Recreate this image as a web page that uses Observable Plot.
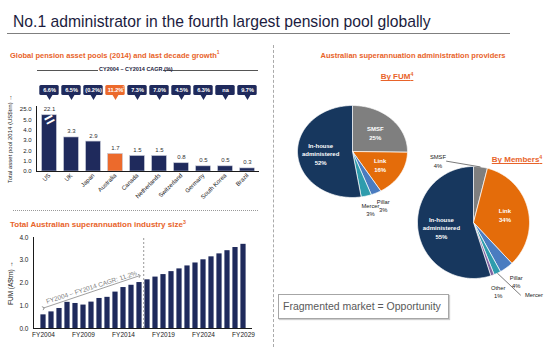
<!DOCTYPE html>
<html><head><meta charset="utf-8">
<script src="https://cdn.jsdelivr.net/npm/d3@7"></script>
<script src="https://cdn.jsdelivr.net/npm/@observablehq/plot@0.6"></script>
<style>
body{margin:0;background:#fff;font-family:"Liberation Sans",Arial,sans-serif;}
#root{position:relative;width:550px;height:347px;overflow:hidden;background:#fff;}
.abs{position:absolute;line-height:1;white-space:nowrap;}
.orange{color:#e8632a;font-weight:bold;}
#root svg{background:transparent;overflow:visible;}
sup{font-size:65%;vertical-align:top;position:relative;top:-1px;}
</style></head><body><div id="root">
<div class="abs" style="left:13px;top:13.7px;font-size:15.7px;color:#1c1c40">No.1 administrator in the fourth largest pension pool globally</div>
<div class="abs" style="left:7px;top:33px;width:503px;border-top:1.5px solid #7f7f7f"></div>
<div class="abs orange" style="left:10px;top:52.2px;font-size:7.5px">Global pension asset pools (2014) and last decade growth<sup>1</sup></div>
<div class="abs" style="left:37px;top:70px;width:61px;border-top:1px solid #555"></div>
<div class="abs" style="left:163px;top:70px;width:95px;border-top:1px solid #555"></div>
<div class="abs" style="left:99px;top:67.3px;width:63px;text-align:center;font-size:5.5px;font-weight:bold;color:#1c1c40">CY2004 – CY2014 CAGR (%)</div>
<div class="abs" style="left:13px;top:210px;width:245px;border-top:1px dotted #999"></div>
<div class="abs orange" style="left:10px;top:220.7px;font-size:8px">Total Australian superannuation industry size<sup>3</sup></div>
<div class="abs" style="left:273px;top:45px;height:302px;border-left:1px dashed #aaa"></div>
<div class="abs orange" style="left:312px;top:52.2px;width:202px;text-align:center;font-size:7.5px">Australian superannuation administration providers</div>
<div class="abs orange" style="left:372px;top:73.2px;width:50px;text-align:center;font-size:8px;text-decoration:underline">By FUM<sup>4</sup></div>
<div class="abs orange" style="left:487px;top:156.2px;width:60px;text-align:center;font-size:8px;text-decoration:underline">By Members<sup>4</sup></div>
<div class="abs" style="left:278px;top:294px;width:165px;height:23px;border:1.5px solid #a6a6a6;box-shadow:1px 1px 1px #ccc;font-size:10.5px;color:#595959;line-height:23px;padding-left:4px;box-sizing:content-box">Fragmented market = Opportunity</div>
</div>
<script>
// ---------- data ----------
const countries = ["US","UK","Japan","Australia","Canada","Netherlands","Switzerland","Germany","South Korea","Brazil"];
const assets2014 = [22.1,3.3,2.9,1.7,1.5,1.5,0.8,0.5,0.5,0.3];
const cagrLabels = ["6.6%","6.5%","(0.2%)","11.2%","7.3%","7.0%","4.5%","6.3%","na","9.7%"];
const globalTicks = [0,1,2,3,4,5,25];
const axisBreak = 5;

const fyYears = ["FY2004","FY2005","FY2006","FY2007","FY2008","FY2009","FY2010","FY2011","FY2012","FY2013","FY2014","FY2015","FY2016","FY2017","FY2018","FY2019","FY2020","FY2021","FY2022","FY2023","FY2024","FY2025","FY2026","FY2027","FY2028","FY2029"];
const fumTrn = [0.6,0.73,0.88,1.15,1.1,1.03,1.16,1.32,1.37,1.6,1.8,1.9,2.02,2.14,2.26,2.37,2.5,2.62,2.75,2.88,3.02,3.15,3.28,3.42,3.56,3.7];
const fyTickLabels = ["FY2004","FY2009","FY2014","FY2019","FY2024","FY2029"];
const lastActualYear = "FY2016";
const cagrText = "FY2004 – FY2014 CAGR: 11.2%";

const fumProviders = ["SMSF","Link","Pillar","Mercer","In-house administered"];
const fumShares = [25,16,3,3,52];
const memberProviders = ["SMSF","Link","Pillar","Mercer","Other","In-house administered"];
const memberShares = [4,34,4,2,1,55];

// ---------- styles ----------
const NAVY = "#1f2a5c", ORANGE = "#ec6a2c";
const providerColors = {"In-house administered":"#17375e","SMSF":"#7f7f7f","Link":"#e46c0a","Pillar":"#4a7cc0","Mercer":"#2e9cad","Other":"#8064a2"};
const font = "Liberation Sans, Arial, sans-serif";
const root = document.getElementById("root");
function place(svg, left, top){ svg.style.position="absolute"; svg.style.left=left+"px"; svg.style.top=top+"px"; root.appendChild(svg); }

// ---------- global pension pools ----------
const breakY = d3.scaleLinear().domain([0, axisBreak, 22.1, 25]).range([0, axisBreak, 5.45, 6.05]);
const globalData = countries.map((c,i)=>({country:c, value:assets2014[i], cagr:cagrLabels[i]}));
const fillOf = d => d.country === "Australia" ? ORANGE : NAVY;

const gW = 270, gL = 36, gR = 11;
const gPlot = Plot.plot({
  width: gW, height: 112, marginLeft: gL, marginRight: gR, marginTop: 6, marginBottom: 41,
  style: {fontFamily: font, fontSize: "6px", color: "#1a1a1a", background: "transparent", overflow: "visible"},
  color: {type: "identity"},
  x: {domain: countries, padding: 0, label: null, tickRotate: -45, tickSize: 0, tickPadding: 3},
  y: {domain: [0, 6.3], ticks: globalTicks.map(t => breakY(t)), tickFormat: v => d3.format(".1f")(breakY.invert(v)),
      tickSize: 0, tickPadding: 5, label: "Total asset pool 2014 (US$trn)", labelAnchor: "center", labelOffset: 29, line: true},
  marks: [
    Plot.barY(globalData, {x: "country", y: d => breakY(d.value), fill: fillOf, insetLeft: 3.6, insetRight: 3.6, stroke: "#c5c8d6", strokeWidth: 0.6}),
    Plot.text(globalData.filter(d => d.value > axisBreak), {x: "country", y: () => breakY(axisBreak), text: () => "=", fill: "white", fontSize: 17, fontWeight: "bold", rotate: -28}),
    Plot.text(globalData, {x: "country", y: d => breakY(d.value), text: d => d3.format(".1f")(d.value), dy: -6, fontSize: 6, fill: "#333"}),
    Plot.ruleY([0], {stroke: "#1a1a1a"})
  ]
});
place(gPlot, 0, 100);

const cPlot = Plot.plot({
  width: gW, height: 20, marginLeft: gL, marginRight: gR, marginTop: 5, marginBottom: 5,
  style: {fontFamily: font, background: "transparent", overflow: "visible"},
  color: {type: "identity"},
  x: {domain: countries, padding: 0, axis: null},
  marks: [
    Plot.cell(globalData, {x: "country", fill: fillOf, insetLeft: 1.3, insetRight: 1.3, rx: 1.5}),
    Plot.dot(globalData, {x: "country", frameAnchor: "bottom", symbol: "triangle", rotate: 180, r: 2.4, fill: fillOf, dy: 0.8}),
    Plot.text(globalData, {x: "country", text: "cagr", fill: "white", fontWeight: "bold", fontSize: 5.6}),
    Plot.text(globalData.filter(d => d.country === "Australia"), {x: "country", text: () => "2", fill: "white", fontSize: 4, dx: 8, dy: -3})
  ]
});
place(cPlot, 0, 80);

// ---------- industry size ----------
const indData = fyYears.map((y,i)=>({year:y, value:fumTrn[i]}));
const iW = 270, iL = 33, iR = 18, iT = 9, iB = 19, iH = 119;
const step = (iW - iL - iR) / fyYears.length;
const pxPerUnit = (iH - iT - iB) / 4;
const i0 = 0, i1 = fyYears.indexOf(lastActualYear);
const lift = 0.3;
const arrow = {x1: fyYears[i0], y1: fumTrn[i0] + lift, x2: fyYears[i1], y2: fumTrn[i1] + lift, xm: fyYears[Math.round((i0 + i1) / 2)]};
const angle = -Math.atan2((arrow.y2 - arrow.y1) * pxPerUnit, (i1 - i0) * step) * 180 / Math.PI;
const iPlot = Plot.plot({
  width: iW, height: iH, marginLeft: iL, marginRight: iR, marginTop: iT, marginBottom: iB,
  style: {fontFamily: font, fontSize: "6.5px", color: "#1a1a1a", background: "transparent", overflow: "visible"},
  x: {domain: fyYears, padding: 0, ticks: fyTickLabels, tickSize: 0, tickPadding: 4, label: null},
  y: {domain: [0, 4], ticks: [0,1,2,3,4], tickFormat: ".1f", tickSize: 0, tickPadding: 5, label: "FUM (A$trn)", labelAnchor: "center", labelOffset: 25, line: true},
  marks: [
    Plot.barY(indData, {x: "year", y: "value", fill: NAVY, insetLeft: 1.4, insetRight: 1.4}),
    Plot.ruleY([0], {stroke: "#1a1a1a"}),
    Plot.ruleX([lastActualYear], {x: d => d, dx: step / 2, y1: () => 0, y2: () => 4, stroke: "#999", strokeDasharray: "2,2"}),
    Plot.link([arrow], {x1: "x1", y1: "y1", x2: "x2", y2: "y2", stroke: "#888", strokeWidth: 0.8, markerStart: "arrow", markerEnd: "arrow"}),
    Plot.text([arrow], {x: "xm", y: d => (d.y1 + d.y2) / 2, text: () => cagrText, rotate: angle, dy: -4.5, fill: "#808080", fontSize: 6.5})
  ]
});
place(iPlot, 0, 228);

// ---------- pies ----------
function pieArcs(names, shares){
  return d3.pie().sort(null).value(d => d.share)(names.map((n,i)=>({name:n, share:shares[i]})));
}
function polygons(arcs){
  const pts = [];
  for (const a of arcs) {
    const n = Math.max(2, Math.ceil((a.endAngle - a.startAngle) / 0.02));
    pts.push({name: a.data.name, x: 0, y: 0});
    for (let k = 0; k <= n; k++) { const t = a.startAngle + (a.endAngle - a.startAngle) * k / n; pts.push({name: a.data.name, x: Math.sin(t), y: Math.cos(t)}); }
    pts.push({name: a.data.name, x: 0, y: 0});
  }
  return pts;
}
const rad = deg => deg * Math.PI / 180;
const polar = (r, a) => ({x: r * Math.sin(a), y: r * Math.cos(a)});
function pieLabels(arcs, leaders){
  return arcs.map(a => {
    const mid = (a.startAngle + a.endAngle) / 2;
    const small = a.data.share < 5;
    const name = a.data.name.replace(" ", "\n");
    const L = leaders[a.data.name];
    if (L) {
      const p = polar(L.labelR, rad(L.labelAngle)), s = polar(1.0, mid), e = polar(L.lineR, rad(L.lineAngle));
      return {...p, text: L.share ? name + "\n" + a.data.share + "%" : name, inside: false, anchor: L.anchor, line: {x1: s.x, y1: s.y, x2: e.x, y2: e.y}};
    }
    const p = polar(small ? 1.3 : 0.58, mid);
    return {...p, text: name + "\n" + a.data.share + "%", inside: !small, anchor: "middle"};
  });
}
function piePlot(names, shares, rx, ry, m, leaders){
  const arcs = pieArcs(names, shares);
  const labels = pieLabels(arcs, leaders || {});
  return Plot.plot({
    width: 2 * rx + m.left + m.right, height: 2 * ry + m.top + m.bottom,
    marginLeft: m.left, marginRight: m.right, marginTop: m.top, marginBottom: m.bottom,
    style: {fontFamily: font, background: "transparent", overflow: "visible"},
    color: {type: "identity"},
    x: {domain: [-1, 1], axis: null}, y: {domain: [-1, 1], axis: null},
    marks: [
      Plot.line(polygons(arcs), {x: "x", y: "y", z: "name", fill: d => providerColors[d.name], stroke: "white", strokeWidth: 0.7}),
      Plot.link(labels.filter(d => d.line), {x1: d => d.line.x1, y1: d => d.line.y1, x2: d => d.line.x2, y2: d => d.line.y2, stroke: "#222", strokeWidth: 0.6}),
      Plot.text(labels.filter(d => d.inside), {x: "x", y: "y", text: "text", fill: "white", fontSize: 6, fontWeight: "bold", lineHeight: 1.45}),
      Plot.text(labels.filter(d => !d.inside && d.anchor === "middle"), {x: "x", y: "y", text: "text", fill: "#222", fontSize: 5.8, lineHeight: 1.4}),
      Plot.text(labels.filter(d => !d.inside && d.anchor === "start"), {x: "x", y: "y", text: "text", fill: "#222", fontSize: 5.8, lineHeight: 1.4, textAnchor: "start", dx: 1})
    ]
  });
}
const fumPie = piePlot(fumProviders, fumShares, 55, 46, {left: 5, right: 10, top: 5, bottom: 25});
place(fumPie, 352 - 55 - 5, 151 - 46 - 5);
const memberLeaders = {
  "SMSF":   {labelR: 1.27, labelAngle: 330, lineR: 1.2, lineAngle: 336, anchor: "middle", share: true},
  "Mercer": {labelR: 1.57, labelAngle: 145, lineR: 1.55, lineAngle: 147, anchor: "start", share: false}
};
const memPie = piePlot(memberProviders, memberShares, 56, 56, {left: 40, right: 24, top: 14, bottom: 30}, memberLeaders);
place(memPie, 473 - 56 - 40, 222 - 56 - 14);
</script>
</body></html>
